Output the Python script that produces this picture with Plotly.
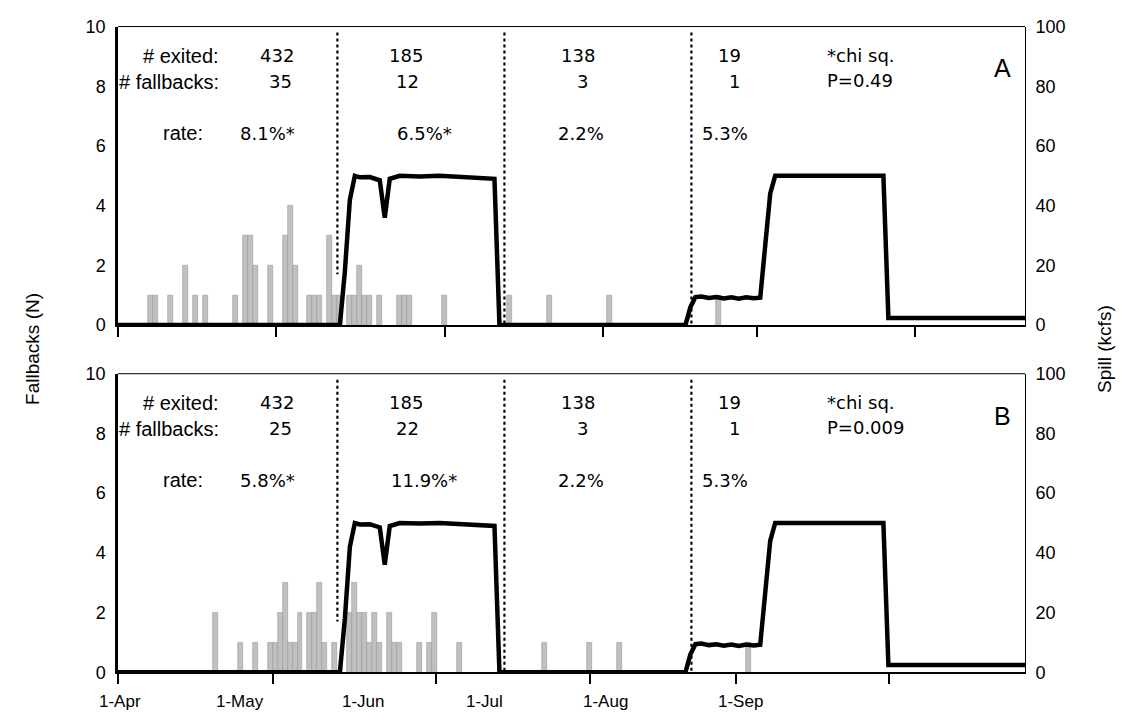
import plotly.graph_objects as go

W, H = 1135, 727
FONT = "Liberation Sans, Arial, sans-serif"
NUMFONT = "DejaVu Sans, Liberation Sans, sans-serif"

# ---- daily fallbacks (day index from the first category) ----
fb_a_day = [6, 7, 10, 13, 15, 17, 23, 25, 26, 27, 30, 33, 34, 35, 38, 39, 40, 42, 43,
            44, 46, 47, 48, 49, 50, 52, 56, 57, 58, 65,
            78, 86, 98,
            120]
fb_a_n = [1, 1, 1, 2, 1, 1, 1, 3, 3, 2, 2, 3, 4, 2, 1, 1, 1, 3, 1,
          1, 1, 1, 2, 1, 1, 1, 1, 1, 1, 1,
          1, 1, 1,
          1]

fb_b_day = [19, 24, 27, 30, 31, 32, 33, 34, 35, 36, 38, 39, 40, 41, 43,
            46, 47, 48, 49, 50, 51, 52, 54, 55, 56, 60, 62, 63, 68,
            85, 94, 100,
            126]
fb_b_n = [2, 1, 1, 1, 1, 2, 3, 1, 1, 2, 2, 2, 3, 1, 1,
          2, 3, 2, 2, 1, 2, 1, 2, 1, 1, 1, 1, 2, 1,
          1, 1, 1,
          1]

# ---- spill (kcfs), vertices of the daily line ----
spill_day = [-0.5, 44, 45, 46, 47, 48, 50, 52, 53, 54, 56, 60, 64, 68, 72, 75, 76,
             113.3, 114.3, 115.3, 116.5, 118, 119.5, 121, 122.5, 124, 125.5, 127, 128.3,
             129.3, 130.3, 131.3, 136, 140, 145, 150, 153, 154, 181.4]
spill_kcfs = [0, 0, 18, 42, 50, 49.5, 49.6, 48.5, 36, 49, 50, 49.8, 50, 49.7, 49.5, 49, 0,
              0, 6, 9.4, 9.6, 9.1, 9.4, 8.9, 9.3, 8.8, 9.3, 9.0, 9.2,
              26, 44, 50, 49.8, 50, 50, 49.8, 50, 2.4, 2.4]

# ---- period dividers ----
div_day = [43.5, 77.0, 114.5]
div_low = [1.7, 0, 0]
div_top = 9.8

# ---- period summaries ----
exited = ["432", "185", "138", "19"]
fallbacks_a = ["35", "12", "3", "1"]
fallbacks_b = ["25", "22", "3", "1"]
rate_a = ["8.1%*", "6.5%*", "2.2%", "5.3%"]
rate_b = ["5.8%*", "11.9%*", "2.2%", "5.3%"]
pval_a = "P=0.49"
pval_b = "P=0.009"

# ---- axis ticks / labels ----
ticks_top = [-0.5, 31.1, 65.1, 96.7, 127.7, 159.3]
ticks_bottom = [-0.5, 30.5, 63.3, 94.1, 123.5, 154.1]
date_pos = [-0.1, 23.9, 48.7, 73.1, 97.3, 124.3]
date_lab = ["1-Apr", "1-May", "1-Jun", "1-Jul", "1-Aug", "1-Sep"]

X_RANGE = [-0.5, 181.4]
XD = [118 / W, 1025 / W]
YD_TOP = [1 - 324 / H, 1 - 17 / H]
YD_BOT = [1 - 681 / H, 1 - 374 / H]

fig = go.Figure()


def add_panel(xa, ya, ya2, days, counts):
    fig.add_trace(go.Bar(x=days, y=counts, width=1, xaxis=xa, yaxis=ya,
                         marker=dict(color="#c0c0c0", line=dict(color="#9a9a9a", width=0.6)),
                         showlegend=False, hoverinfo="skip"))
    for d, lo in zip(div_day, div_low):
        fig.add_trace(go.Scatter(x=[d, d], y=[div_top, lo], mode="lines", xaxis=xa, yaxis=ya,
                                 line=dict(color="black", width=2.2, dash="dot"),
                                 showlegend=False, hoverinfo="skip"))
    fig.add_trace(go.Scatter(x=spill_day, y=spill_kcfs, mode="lines", xaxis=xa, yaxis=ya2,
                             line=dict(color="black", width=4.5), showlegend=False,
                             hoverinfo="skip"))


add_panel("x", "y", "y2", fb_a_day, fb_a_n)
add_panel("x2", "y3", "y4", fb_b_day, fb_b_n)

tickfont = dict(family=FONT, size=18, color="black")
xcommon = dict(range=X_RANGE, domain=XD, showgrid=False, zeroline=False, showline=True,
               linecolor="black", linewidth=1.5, ticks="outside", ticklen=10, tickwidth=1.5,
               tickcolor="black", showticklabels=False, tickmode="array")
ycommon = dict(showgrid=False, zeroline=False, showline=True, linecolor="black",
               tickfont=tickfont, ticks="outside", ticklen=6, tickcolor="rgba(0,0,0,0)",
               tickmode="array")

fig.update_layout(
    width=W, height=H, margin=dict(l=0, r=0, t=0, b=0),
    paper_bgcolor="white", plot_bgcolor="white", bargap=0,
    font=dict(family=FONT, size=18, color="black"),
    xaxis=dict(xcommon, anchor="y", tickvals=ticks_top),
    xaxis2=dict(xcommon, anchor="y3", tickvals=ticks_bottom),
    yaxis=dict(ycommon, domain=YD_TOP, range=[0, 10], anchor="x", linewidth=2.5,
               tickvals=[0, 2, 4, 6, 8, 10]),
    yaxis2=dict(ycommon, domain=YD_TOP, range=[0, 100], anchor="x", overlaying="y",
                side="right", linewidth=1, tickvals=[0, 20, 40, 60, 80, 100]),
    yaxis3=dict(ycommon, domain=YD_BOT, range=[0, 10], anchor="x2", linewidth=2.5,
                tickvals=[0, 2, 4, 6, 8, 10]),
    yaxis4=dict(ycommon, domain=YD_BOT, range=[0, 100], anchor="x2", overlaying="y3",
                side="right", linewidth=1, tickvals=[0, 20, 40, 60, 80, 100]),
)

# top frame edges
for yd in (YD_TOP, YD_BOT):
    fig.add_shape(type="line", xref="paper", yref="paper", x0=XD[0], x1=XD[1],
                  y0=yd[1], y1=yd[1], line=dict(color="black", width=1))

ann = []


def txt(x, y, s, xr, yr, xanchor="center", size=20, family=FONT):
    ann.append(dict(x=x, y=y, xref=xr, yref=yr, text=s, showarrow=False, xanchor=xanchor,
                    yanchor="middle", font=dict(family=family, size=size, color="black")))


exit_x = [31.4, 57.3, 91.7, 122.2]
fb_x = [32.1, 57.5, 92.7, 123.2]
rate_x = [29.5, 60.9, 92.3, 121.3]
for xr, yr, fbs, rts, pv, letter in (("x", "y", fallbacks_a, rate_a, pval_a, "A"),
                                     ("x2", "y3", fallbacks_b, rate_b, pval_b, "B")):
    txt(20.1, 9.02, "# exited:", xr, yr, "right")
    txt(20.1, 8.15, "# fallbacks:", xr, yr, "right")
    txt(16.9, 6.43, "rate:", xr, yr, "right")
    for i in range(4):
        txt(exit_x[i], 9.02, exited[i], xr, yr, size=18, family=NUMFONT)
        txt(fb_x[i], 8.15, fbs[i], xr, yr, size=18, family=NUMFONT)
        txt(rate_x[i], 6.43, rts[i], xr, yr, size=18, family=NUMFONT)
    txt(141.3, 9.02, "*chi sq.", xr, yr, "left", size=18, family=NUMFONT)
    txt(141.3, 8.2, pv, xr, yr, "left", size=18, family=NUMFONT)
    txt(176.9, 8.6, letter, xr, yr, size=25)

# date labels under the lower panel
for p, lab in zip(date_pos, date_lab):
    ann.append(dict(x=p, y=1 - 711 / H, xref="x2", yref="paper", text=lab, showarrow=False,
                    xanchor="center", yanchor="middle",
                    font=dict(family=FONT, size=17, color="black")))

ann.append(dict(x=20 / W, y=1 - 349 / H, xref="paper", yref="paper", text="Fallbacks (N)",
                textangle=-90, showarrow=False, font=dict(family=FONT, size=19)))
ann.append(dict(x=1117 / W, y=1 - 349 / H, xref="paper", yref="paper", text="Spill (kcfs)",
                textangle=-90, showarrow=False, font=dict(family=FONT, size=19)))
fig.update_layout(annotations=ann)

fig.write_html("out.html")
